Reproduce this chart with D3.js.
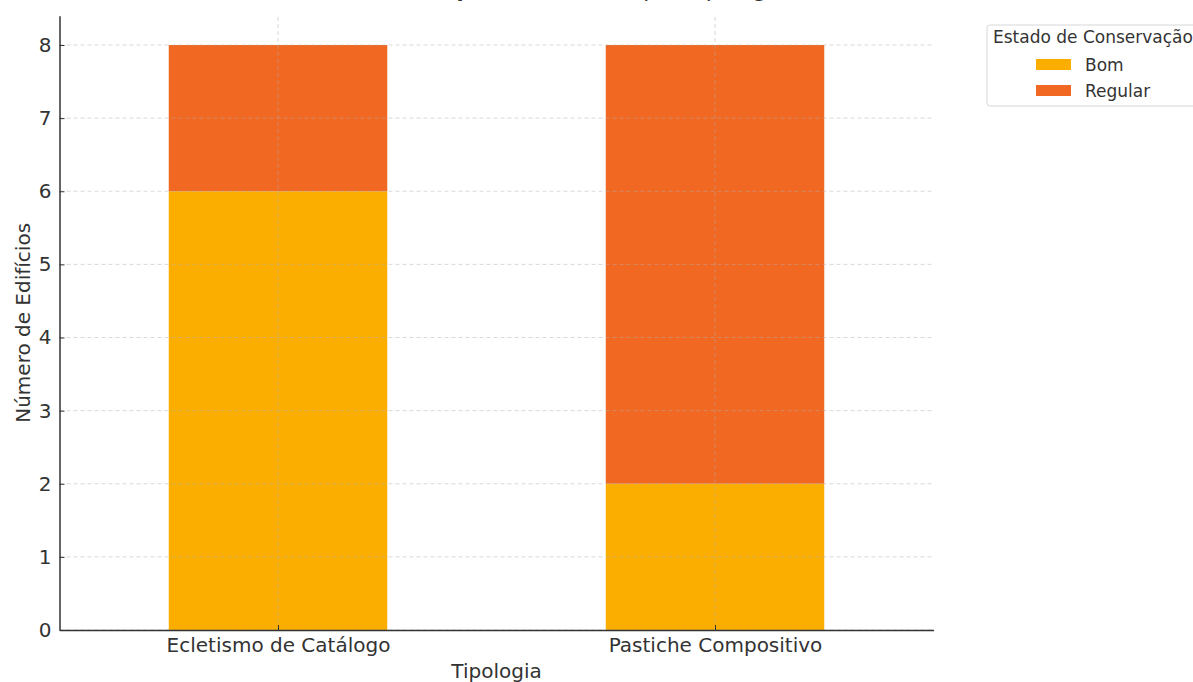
<!DOCTYPE html>
<html><head><meta charset="utf-8">
<script src="https://cdn.jsdelivr.net/npm/d3@7"></script>
<style>
html,body{margin:0;padding:0;background:#fff;overflow:hidden}
text{font-family:"DejaVu Sans",sans-serif;fill:#333}
</style></head>
<body>
<svg id="c" width="1193" height="682"></svg>
<script>
const categories = ["Ecletismo de Catálogo", "Pastiche Compositivo"];
const seriesNames = ["Bom", "Regular"];
const bom = [6, 2];
const regular = [2, 6];
const yTicks = [0, 1, 2, 3, 4, 5, 6, 7, 8];
const colors = ["#fcae00", "#f16823"];
const titleText = "Estado de Conservação dos Edifícios por Tipologia";

const svg = d3.select("#c");

const x = d3.scaleLinear().domain([-0.5, 1.5]).range([59.5, 933.5]);
const y = d3.scaleLinear().domain([0, 8.4]).range([630, 630 - 8.4 * 73.125]);

const rows = categories.map((c, i) => ({cat: c, i, Bom: bom[i], Regular: regular[i]}));
const stack = d3.stack().keys(seriesNames)(rows);
const bw = x(0.25) - x(-0.25);

// bars
stack.forEach((s, k) => {
  svg.append("g").selectAll("rect").data(s).join("rect")
    .attr("x", d => x(d.data.i) - bw / 2)
    .attr("width", bw)
    .attr("y", d => y(d[1]))
    .attr("height", d => y(d[0]) - y(d[1]))
    .attr("fill", colors[k]);
});

// grid (on top)
const g = svg.append("g").attr("stroke", "#b0b0b0").attr("stroke-dasharray", "4,3").attr("stroke-width", 0.8).attr("opacity", 0.6);
g.selectAll(".gy").data(yTicks).join("line")
  .attr("x1", x(-0.5)).attr("x2", x(1.5))
  .attr("y1", d => y(d)).attr("y2", d => y(d));
g.selectAll(".gx").data(categories.map((c, i) => i)).join("line")
  .attr("x1", d => x(d)).attr("x2", d => x(d))
  .attr("y1", y(0)).attr("y2", y(8.4));

// axes
const yAxis = d3.axisLeft(y).tickValues(yTicks).tickFormat(d3.format("d")).tickSizeInner(-5).tickSizeOuter(0).tickPadding(8);
const ya = svg.append("g").attr("transform", `translate(${x(-0.5)},0)`).call(yAxis);
ya.select(".domain").attr("stroke", "#333").attr("stroke-width", 1.5);
ya.selectAll(".tick line").attr("stroke", "#333");
ya.selectAll("text").style("font-size", "20px").style("fill", "#333");

const xAxis = d3.axisBottom(x).tickValues([0, 1]).tickFormat(i => categories[i]).tickSizeInner(-5).tickSizeOuter(0).tickPadding(8);
const xa = svg.append("g").attr("transform", `translate(0,${y(0)})`).call(xAxis);
xa.select(".domain").attr("stroke", "#333").attr("stroke-width", 1.5);
xa.selectAll(".tick line").attr("stroke", "#333");
xa.selectAll("text").style("font-size", "20px").style("fill", "#333");

// axis titles
svg.append("text").attr("x", (x(-0.5) + x(1.5)) / 2).attr("y", 678)
  .attr("text-anchor", "middle").style("font-size", "20px").text("Tipologia");
svg.append("text").attr("transform", `translate(30,${(y(0) + y(8.4)) / 2}) rotate(-90)`)
  .attr("text-anchor", "middle").style("font-size", "20px").text("Número de Edifícios");

// title (almost entirely cut off at top, as in the reference)
svg.append("text").attr("x", 510).attr("y", -3)
  .attr("text-anchor", "middle").style("font-size", "22px").text(titleText);

// legend
const lg = svg.append("g").attr("transform", "translate(987,25)");
lg.append("rect").attr("x", 0).attr("y", 0).attr("width", 230).attr("height", 81)
  .attr("rx", 3).attr("fill", "#fff").attr("stroke", "#d6d6d6");
lg.append("text").attr("x", 6).attr("y", 18).style("font-size", "17px").text("Estado de Conservação");
seriesNames.forEach((n, k) => {
  lg.append("rect").attr("x", 49).attr("y", 34 + k * 26).attr("width", 35).attr("height", 11).attr("fill", colors[k]);
  lg.append("text").attr("x", 98).attr("y", 46 + k * 26).style("font-size", "17px").text(n);
});
</script>
</body></html>
